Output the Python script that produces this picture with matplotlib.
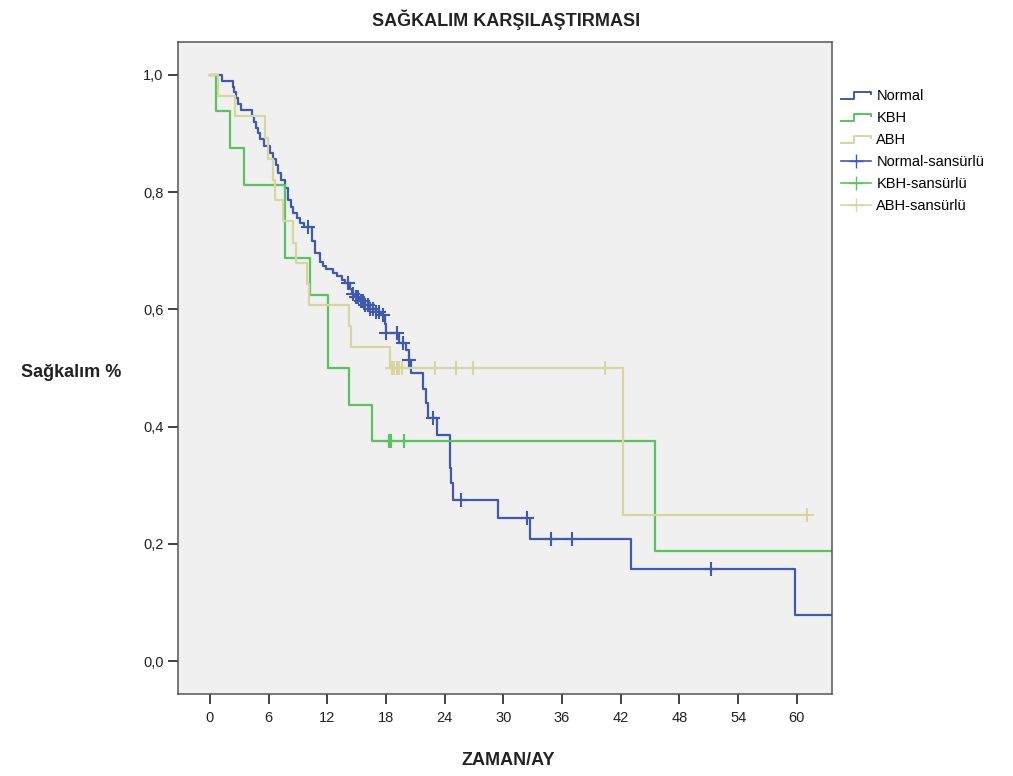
import numpy as np
import matplotlib
matplotlib.use('Agg')
import matplotlib.pyplot as plt
from matplotlib.lines import Line2D
from matplotlib.legend_handler import HandlerBase

plt.rcParams['font.family'] = ['Liberation Sans', 'DejaVu Sans']

# Normal group: step times (months) and survival after each step
normal_t = [0, 1.2, 2.4, 2.5, 2.7, 2.9, 3.2, 4.3, 4.5, 4.7, 4.9, 5.1, 5.5, 6.1, 6.4,
            6.8, 7.0, 7.3, 7.7, 8.0, 8.3, 8.5, 8.9, 9.2, 9.6, 10.4, 10.7, 11.2, 11.6,
            11.9, 12.6, 13.0, 13.5, 13.8, 14.3, 14.5, 14.8, 15.3, 15.9, 16.4, 17.0,
            17.5, 17.9, 18.0, 19.3, 20.0, 20.3, 20.6, 21.8, 22.1, 22.3, 23.2, 24.5,
            24.6, 24.9, 29.5, 32.7, 43.1, 59.8, 63.6]
normal_s = [1.0, 0.99, 0.98, 0.97, 0.96, 0.95, 0.94, 0.93, 0.92, 0.91, 0.90, 0.89,
            0.878, 0.866, 0.856, 0.846, 0.832, 0.82, 0.807, 0.787, 0.775, 0.764,
            0.755, 0.747, 0.74, 0.716, 0.696, 0.681, 0.674, 0.668, 0.662, 0.657,
            0.65, 0.645, 0.635, 0.627, 0.621, 0.615, 0.608, 0.60, 0.595, 0.59,
            0.575, 0.56, 0.542, 0.531, 0.514, 0.491, 0.465, 0.44, 0.414, 0.386,
            0.33, 0.303, 0.275, 0.2435, 0.209, 0.1565, 0.0785, 0.0785]
normal_cens = [10.05, 14.1, 14.6, 14.9, 15.1, 15.4, 15.6, 15.9, 16.2, 16.4, 16.7,
               17.0, 17.3, 17.7, 18.05, 19.1, 19.75, 20.4, 22.8, 25.7, 32.4, 34.9,
               37.0, 51.2]

# KBH group
kbh_t = [0, 0.6, 2.0, 3.5, 7.7, 10.2, 12.1, 14.2, 16.6, 45.5, 63.6]
kbh_s = [1.0, 0.9375, 0.875, 0.8125, 0.6875, 0.625, 0.5, 0.4375, 0.375, 0.1875, 0.1875]
kbh_cens = [18.3, 18.5, 19.8]

# ABH group
abh_t = [0, 0.85, 2.55, 5.6, 5.95, 6.4, 6.65, 7.5, 8.5, 8.8, 9.9, 10.1, 14.2,
         14.45, 18.4, 42.2, 61.05]
abh_s = [1.0, 0.964, 0.929, 0.893, 0.857, 0.821, 0.786, 0.75, 0.714, 0.679,
         0.643, 0.607, 0.571, 0.536, 0.5, 0.25, 0.25]
abh_cens = [18.6, 18.8, 19.1, 19.35, 19.6, 23.0, 25.2, 26.9, 40.4, 61.05]

labels = ['Normal', 'KBH', 'ABH']
colors = ['#3f59ae', '#5cc160', '#d9d5a0']
xticks = list(range(0, 61, 6))
yticks = [0.0, 0.2, 0.4, 0.6, 0.8, 1.0]


def surv_at(t, s, c):
    t = np.asarray(t)
    s = np.asarray(s)
    idx = np.searchsorted(t, c, side='right') - 1
    return s[idx]


class StepHandler(HandlerBase):
    def create_artists(self, legend, orig_handle, xdescent, ydescent,
                       width, height, fontsize, trans):
        x0 = -xdescent
        xs = [x0, x0 + 0.45 * width, x0 + 0.45 * width, x0 + width, x0 + width]
        ys = [0.1 * height, 0.1 * height, 0.8 * height, 0.8 * height, 0.55 * height]
        ln = Line2D(xs, ys, color=orig_handle.get_color(), lw=1.4)
        ln.set_transform(trans)
        return [ln]


fig = plt.figure(figsize=(10.13, 7.76), dpi=100)
fig.patch.set_facecolor('white')
ax = fig.add_axes([0.1757, 0.1057, 0.6456, 0.8402])
ax.set_facecolor('#f0f0f0')

groups = [(normal_t, normal_s, normal_cens),
          (kbh_t, kbh_s, kbh_cens),
          (abh_t, abh_s, abh_cens)]

step_handles = []
cens_handles = []
for (t, s, c), col, lab in zip(groups, colors, labels):
    h, = ax.step(t, s, where='post', color=col, lw=1.6)
    cy = surv_at(t, s, c)
    ax.plot(c, cy, linestyle='none', marker='+', markersize=10,
            markeredgewidth=1.5, color=col)
    step_handles.append(Line2D([], [], color=col, label=lab))
    cens_handles.append(Line2D([], [], color=col, marker='+', markersize=10,
                               lw=1.2, label=lab + '-sansürlü'))

ax.set_xlim(-3.27, 63.6)
ax.set_ylim(-0.056, 1.056)
ax.set_xticks(xticks)
ax.set_xticklabels([str(v) for v in xticks])
ax.set_yticks(yticks)
ax.set_yticklabels([('%.1f' % v).replace('.', ',') for v in yticks])
ax.tick_params(axis='both', direction='out', length=7, width=1.3,
               color='#333333', labelsize=10.5, labelcolor='#222222')
ax.tick_params(axis='x', pad=5)
for sp in ax.spines.values():
    sp.set_color('#555555')
    sp.set_linewidth(1.1)

handler = StepHandler()
leg = fig.legend(handles=step_handles + cens_handles,
                 handler_map={h: handler for h in step_handles},
                 loc='upper left', bbox_to_anchor=(0.824, 0.893),
                 frameon=False, fontsize=10.5, handlelength=2.1,
                 handletextpad=0.35, labelspacing=0.55, borderaxespad=0)

fig.text(0.5, 0.975, 'SAĞKALIM KARŞILAŞTIRMASI', ha='center', va='center',
         fontsize=13, fontweight='bold', color='#222222')
fig.text(0.07, 0.52, 'Sağkalım %', ha='center', va='center',
         fontsize=13, fontweight='bold', color='#222222')
fig.text(0.502, 0.02, 'ZAMAN/AY', ha='center', va='center',
         fontsize=13, fontweight='bold', color='#222222')

fig.savefig('out.png', dpi=100)
